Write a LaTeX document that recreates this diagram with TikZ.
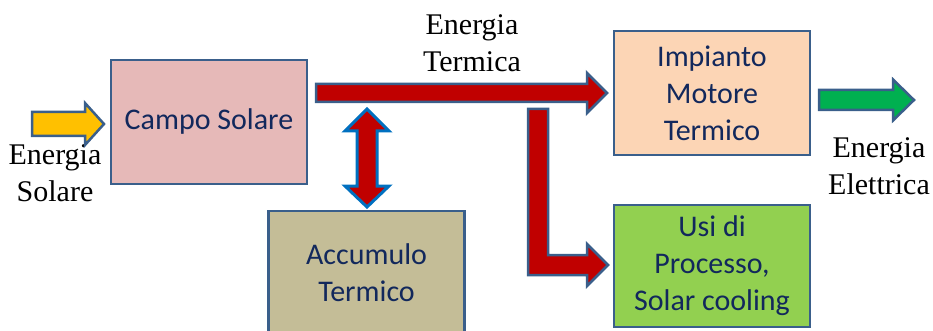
\documentclass[tikz,border=0pt]{standalone}
\usepackage{fontspec}
\setmainfont{Liberation Serif}
\newfontfamily\boxfont{Carlito}
\definecolor{boxline}{RGB}{58,95,139}
\definecolor{boxtext}{RGB}{18,40,92}
\definecolor{campofill}{HTML}{E6B9B8}
\definecolor{accfill}{HTML}{C4BD97}
\definecolor{motfill}{HTML}{FCD5B5}
\definecolor{usifill}{HTML}{92D050}
\definecolor{redfill}{HTML}{C00000}
\definecolor{yellowfill}{HTML}{FFC000}
\definecolor{greenfill}{HTML}{00B050}
\definecolor{dblline}{HTML}{0070C0}
\begin{document}
\begin{tikzpicture}[x=1pt,y=-1pt,
  block/.style={draw=boxline,line width=2.5pt,minimum width=196pt,minimum height=124pt,
    inner sep=0pt,align=center,text=boxtext,font=\boxfont\fontsize{30}{37}\selectfont},
  lbl/.style={align=center,inner sep=0pt,font=\fontsize{30}{37}\selectfont},
  blockarrow/.style={draw=boxline,line width=2.5pt}]
\useasboundingbox (0,0) rectangle (933,331);
\node[block,fill=campofill] (campo) at (209,122) {Campo Solare};
\node[block,fill=accfill] (accumulo) at (366.5,273) {Accumulo\\Termico};
\node[block,fill=motfill] (motore) at (712,93) {Impianto\\Motore\\Termico};
\node[block,fill=usifill,minimum height=122pt] (usi) at (712,266) {Usi di\\Processo,\\Solar cooling};
\node[lbl] (solare) at (55,173) {Energia\\Solare};
\node[lbl] (termica) at (472,43.5) {Energia\\Termica};
\node[lbl] (elettrica) at (879,166) {Energia\\Elettrica};
\coordinate (sun) at (32,124);
\coordinate (heat) at (316,93);
\coordinate (branch) at (538,109);
\coordinate (store) at (367,109);
\coordinate (power) at (819,100);
% block arrows
\draw[blockarrow,fill=yellowfill] (sun) ++(0,-12) -- ++(53,0) -- ++(0,-9) -- ++(19,21)
  -- ++(-19,21) -- ++(0,-9) -- ++(-53,0) -- cycle;
\draw[blockarrow,fill=redfill] (heat) ++(0,-9) -- ++(271,0) -- ++(0,-11) -- ++(20,20)
  -- ++(-20,20) -- ++(0,-11) -- ++(-271,0) -- cycle;
\draw[blockarrow,fill=redfill] (branch) ++(-10,0) -- ++(20,0) -- ++(0,146) -- ++(39,0)
  -- ++(0,-11) -- ++(21,21) -- ++(-21,21) -- ++(0,-11) -- ++(-59,0) -- cycle;
\draw[blockarrow,draw=dblline,line width=3pt,fill=redfill] (store) -- ++(22,22) -- ++(-12,0)
  -- ++(0,55) -- ++(12,0) -- ++(-22,21) -- ++(-22,-21) -- ++(12,0) -- ++(0,-55) -- ++(-12,0) -- cycle;
\draw[blockarrow,fill=greenfill] (power) ++(0,-10) -- ++(74,0) -- ++(0,-10.5) -- ++(21,20.5)
  -- ++(-21,20.5) -- ++(0,-10.5) -- ++(-74,0) -- cycle;
\end{tikzpicture}
\end{document}
